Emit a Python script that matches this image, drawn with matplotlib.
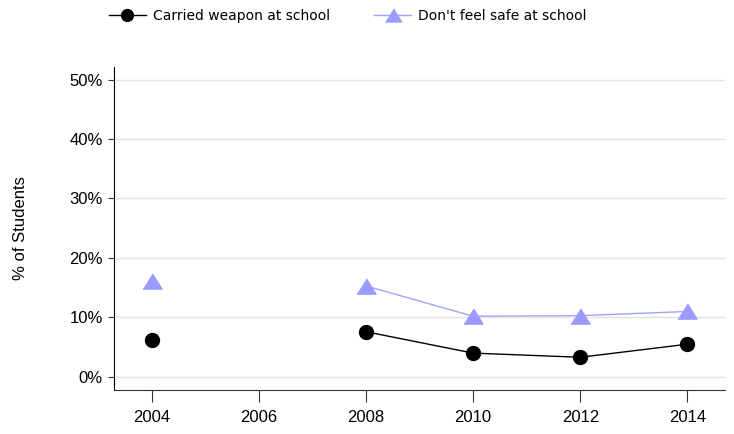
import numpy as np
import matplotlib.pyplot as plt
from matplotlib.ticker import FuncFormatter

years = [2004, 2006, 2008, 2010, 2012, 2014]
carried_weapon = [6.2, np.nan, 7.6, 4.0, 3.3, 5.5]
not_safe = [16.1, np.nan, 15.3, 10.2, 10.3, 11.0]

plt.rcParams['font.family'] = ['Liberation Sans', 'DejaVu Sans']

fig = plt.figure(figsize=(7.34, 4.34), dpi=100)
ax = fig.add_axes([0.1553, 0.1014, 0.8324, 0.7442])

tri = [(-1, -0.8), (1, -0.8), (0, 0.8)]
ax.plot(years, not_safe, color='#a3a3ff', lw=1, marker=tri, ms=13.7,
        markerfacecolor='#9b9bff', markeredgecolor='#9b9bff',
        label="Don't feel safe at school", zorder=3)
ax.plot(years, carried_weapon, color='black', lw=1, marker='o', ms=10,
        label='Carried weapon at school', zorder=4)

ax.set_xlim(2003.3, 2014.7)
ax.set_ylim(-2.2, 52.1)
ax.set_xticks([2004, 2006, 2008, 2010, 2012, 2014])
ax.set_yticks([0, 10, 20, 30, 40, 50])
ax.yaxis.set_major_formatter(FuncFormatter(lambda v, p: f'{v:.0f}%'))
ax.tick_params(axis='y', length=4, width=0.8, color='#333333', labelsize=12, pad=4)
ax.tick_params(axis='x', length=8.5, width=0.8, color='#333333', labelsize=12, pad=6)
ax.grid(axis='y', color='#e3e3e3', lw=1)
ax.set_axisbelow(True)
for s in ['top', 'right']:
    ax.spines[s].set_visible(False)
ax.spines['left'].set_color('black')
ax.spines['bottom'].set_color('#333333')
ax.set_ylabel('% of Students', fontsize=12, labelpad=30)

h, l = ax.get_legend_handles_labels()
fig.legend(h[::-1], l[::-1], loc='center left', bbox_to_anchor=(0.1485, 0.964), ncol=2,
           frameon=False, prop={'family': 'DejaVu Sans', 'size': 10},
           handlelength=2.66, columnspacing=3.2, handletextpad=0.48,
           borderpad=0, borderaxespad=0, markerscale=0.85)

fig.savefig('out.png', dpi=100)
